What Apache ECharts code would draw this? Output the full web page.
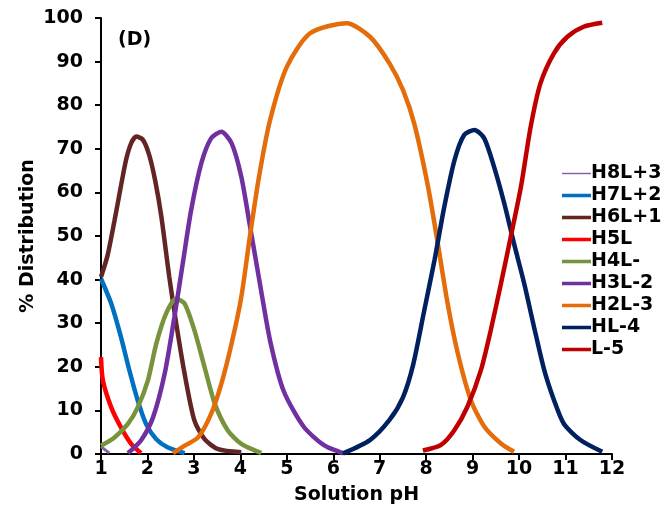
<!DOCTYPE html>
<html>
<head>
<meta charset="utf-8">
<script src="https://cdn.jsdelivr.net/npm/echarts@6/dist/echarts.min.js"></script>
<style>html,body{margin:0;padding:0;background:#fff}#c{width:667px;height:531px}</style>
</head>
<body>
<div id="c"></div>
<script>
var seriesNames = ['H8L+3','H7L+2','H6L+1','H5L','H4L-','H3L-2','H2L-3','HL-4','L-5'];
var seriesColors = ['#8064A2','#0070C0','#632523','#FF0000','#77933C','#7030A0','#E46C0A','#002060','#C00000'];

var pH_H8L = [1.0, 1.18];
var val_H8L = [1.7, 0.2];

var pH_H7L = [1.0, 1.22, 1.43, 1.61, 1.79, 1.97, 2.19, 2.44, 2.8];
var val_H7L = [40.2, 34.5, 26.8, 19.2, 12.3, 6.9, 3.4, 1.5, 0.2];

var pH_H6L = [1.0, 1.14, 1.29, 1.43, 1.54, 1.65, 1.76, 1.9, 2.04, 2.17, 2.3, 2.47, 2.62, 2.8, 3.01, 3.23, 3.52, 4.02];
var val_H6L = [40.6, 45.5, 53.5, 61.5, 67.5, 71.3, 72.8, 72.1, 68.5, 62.5, 54.4, 40.6, 29.9, 18.4, 7.7, 3.4, 1.1, 0.4];

var pH_H5L = [1.0, 1.04, 1.22, 1.43, 1.65, 1.86];
var val_H5L = [22.2, 16.9, 10.7, 6.1, 2.3, 0.2];

var pH_H4L = [1.0, 1.29, 1.58, 1.79, 2.01, 2.19, 2.4, 2.62, 2.8, 3.01, 3.23, 3.45, 3.73, 4.02, 4.45];
var val_H4L = [1.9, 3.8, 6.9, 10.7, 16.9, 25.3, 32.2, 35.6, 34.5, 28.4, 19.9, 11.5, 5.4, 2.3, 0.2];

var pH_H3L = [1.58, 1.86, 2.12, 2.37, 2.58, 2.76, 2.94, 3.16, 3.37, 3.59, 3.81, 4.02, 4.21, 4.43, 4.64, 4.93, 5.36, 5.79, 6.21];
var val_H3L = [0.2, 3.1, 8.4, 18.4, 31.4, 43.7, 55.9, 66.7, 72.4, 73.9, 71.3, 63.6, 52.1, 38.5, 26.0, 14.5, 6.3, 2.1, 0.15];

var pH_H2L = [2.55, 2.8, 3.09, 3.37, 3.59, 3.81, 4.02, 4.2, 4.4, 4.64, 5.0, 5.5, 6.29, 6.79, 7.21, 7.5, 7.75, 8.04, 8.25, 8.46, 8.68, 8.96, 9.25, 9.61, 9.89];
var val_H2L = [0.2, 1.9, 3.8, 9.2, 16.1, 25.3, 36.0, 49.5, 63.5, 76.6, 88.8, 96.5, 98.8, 95.7, 89.6, 83.5, 75.5, 61.3, 48.3, 34.6, 23.1, 12.4, 6.3, 2.4, 0.5];

var pH_HL = [6.21, 6.79, 7.21, 7.5, 7.72, 7.96, 8.18, 8.39, 8.61, 8.82, 9.04, 9.25, 9.46, 9.68, 9.89, 10.11, 10.32, 10.54, 10.75, 10.96, 11.32, 11.79];
var val_HL = [0.15, 3.2, 7.8, 13.0, 20.5, 33, 44.5, 56.7, 67.4, 73.2, 74.3, 72.4, 65.9, 57.5, 48.3, 39.1, 29.2, 19.3, 12.4, 7.0, 3.2, 0.5];

var pH_L = [7.93, 8.32, 8.61, 8.89, 9.18, 9.39, 9.61, 9.82, 10.04, 10.25, 10.46, 10.75, 11.04, 11.39, 11.79];
var val_L = [0.8, 2.1, 5.5, 10.9, 19.3, 28.4, 39.1, 49.8, 61.3, 75.1, 85, 91.9, 95.7, 98, 98.9];

var xTicks = [1,2,3,4,5,6,7,8,9,10,11,12];
var yTicks = [0,10,20,30,40,50,60,70,80,90,100];

var allPH = [pH_H8L, pH_H7L, pH_H6L, pH_H5L, pH_H4L, pH_H3L, pH_H2L, pH_HL, pH_L];
var allVal = [val_H8L, val_H7L, val_H6L, val_H5L, val_H4L, val_H3L, val_H2L, val_HL, val_L];

function pairs(xs, ys){ return xs.map(function(x,i){ return [x, ys[i]]; }); }

var FONT = '"DejaVu Sans", "Liberation Sans", Arial, sans-serif';
var FS = 19;
var series = seriesNames.map(function(n, i){
  return {
    name: n, type: 'line', data: pairs(allPH[i], allVal[i]),
    smooth: 0.25, showSymbol: false, symbol: 'none',
    lineStyle: { color: seriesColors[i], width: i === 0 ? 3 : 4.5 },
    itemStyle: { color: seriesColors[i] },
    z: 2 + i
  };
});

var chart = echarts.init(document.getElementById('c'), null, {renderer: 'canvas'});
chart.setOption({
  animation: false,
  backgroundColor: '#fff',
  grid: { left: 101, right: 55, top: 18, bottom: 77, containLabel: false },
  legend: {
    orient: 'vertical', left: 557, top: 159, itemGap: 3,
    itemWidth: 29, itemHeight: 15,
    textStyle: { fontFamily: FONT, fontWeight: 'bold', fontSize: FS, color: '#000', padding: [0,0,0,-5] },
    data: seriesNames.map(function(n,i){ return { name: n, icon: i===0 ? 'path://M0,6.8L28,6.8L28,8.2L0,8.2Z' : 'path://M0,5.8L28,5.8L28,9.2L0,9.2Z' }; })
  },
  xAxis: {
    type: 'value', min: 1, max: 12, interval: 1,
    name: 'Solution pH', nameLocation: 'middle', nameGap: 32, nameMoveOverlap: false,
    nameTextStyle: { fontFamily: FONT, fontWeight: 'bold', fontSize: FS, color: '#000' },
    axisLine: { lineStyle: { color: '#000', width: 2 } },
    axisTick: { show: true, inside: false, length: 6, lineStyle: { color: '#000', width: 2 } },
    axisLabel: { fontFamily: FONT, fontWeight: 'bold', fontSize: FS, color: '#000', margin: 6 },
    splitLine: { show: false }
  },
  yAxis: {
    type: 'value', min: 0, max: 100, interval: 10,
    name: '% Distribution', nameLocation: 'middle', nameGap: 63, nameRotate: 90, nameMoveOverlap: false,
    nameTextStyle: { fontFamily: FONT, fontWeight: 'bold', fontSize: FS, color: '#000' },
    axisLine: { show: true, lineStyle: { color: '#000', width: 2 } },
    axisTick: { show: true, inside: false, length: 6, lineStyle: { color: '#000', width: 2 } },
    axisLabel: { fontFamily: FONT, fontWeight: 'bold', fontSize: FS, color: '#000', margin: 18 },
    splitLine: { show: false }
  },
  graphic: [{
    type: 'text', left: 118, top: 31,
    style: { text: '(D)', fontFamily: FONT, fontWeight: 'bold', fontSize: FS, fill: '#000' }
  }],
  series: series
});
</script>
</body>
</html>
